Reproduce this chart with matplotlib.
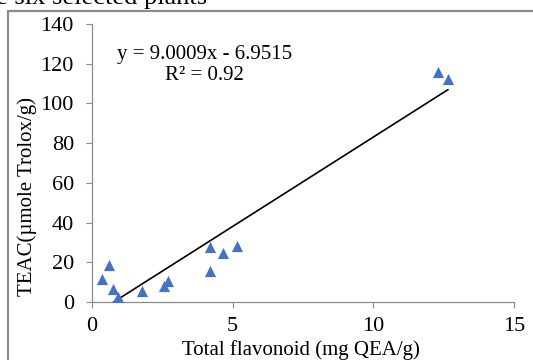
import matplotlib.pyplot as plt
from matplotlib.patches import Rectangle
import numpy as np

plt.rcParams['font.family'] = ['Liberation Serif', 'DejaVu Serif']

# flavonoid content vs antioxidant capacity
flavonoid = [0.37, 0.61, 0.73, 0.93, 1.77, 2.57, 2.69, 4.18, 4.18, 4.65, 5.17, 12.3, 12.65]
teac = [11.4, 18.6, 6.4, 2.5, 5.7, 8.0, 10.7, 27.8, 15.8, 24.8, 28.2, 116.0, 112.3]

slope = 9.0009
intercept = -6.9515
r2 = 0.92

x_ticks = [0, 5, 10, 15]
y_ticks = [0, 20, 40, 60, 80, 100, 120, 140]

W, H = 533, 360
fig = plt.figure(figsize=(W / 100, H / 100), dpi=100)

# caption line cut off at the top and the page frame
fig.text(-4 / W, 1 - 4 / H, 'e six selected plants', fontsize=19, va='baseline', ha='left')
fig.patches.append(Rectangle((8 / W, -0.1), 1.2, 1 - 11 / H + 0.1, transform=fig.transFigure,
                             fill=False, edgecolor='#8c8c8c', linewidth=1.6))

ax = fig.add_axes([92 / W, 1 - 302 / H, (514 - 92) / W, (302 - 24) / H])
ax.scatter(flavonoid, teac, marker='^', s=65, color='#4472c4', zorder=3, linewidths=0)

xs = np.array([min(flavonoid), max(flavonoid)])
ax.plot(xs, slope * xs + intercept, color='black', linewidth=1.2, zorder=2)

ax.set_xlim(0, 15)
ax.set_ylim(0, 140)
ax.set_xticks(x_ticks)
ax.set_yticks(y_ticks)
ax.tick_params(direction='out', length=4, width=0.8, color='#8c8c8c', labelsize=16)
ax.tick_params(axis='y', pad=9)
ax.tick_params(axis='x', pad=7)
for s in ['top', 'right']:
    ax.spines[s].set_visible(False)
for s in ['left', 'bottom']:
    ax.spines[s].set_color('#8c8c8c')
    ax.spines[s].set_linewidth(0.9)

fig.text(205 / W, 1 - 55 / H, 'y = %.4fx - %.4f' % (slope, -intercept), fontsize=15,
         ha='center', va='center')
fig.text(204 / W, 1 - 76 / H, 'R\u00b2 = %.2f' % r2, fontsize=15, ha='center', va='center')

fig.text(27 / W, 1 - 196 / H, 'TEAC(\u00b5mole Trolox/g)', fontsize=15, rotation=90,
         ha='center', va='center')
fig.text(301 / W, 1 - 350 / H, 'Total flavonoid (mg QEA/g)', fontsize=15,
         ha='center', va='center')

fig.savefig('out.png', dpi=100)
